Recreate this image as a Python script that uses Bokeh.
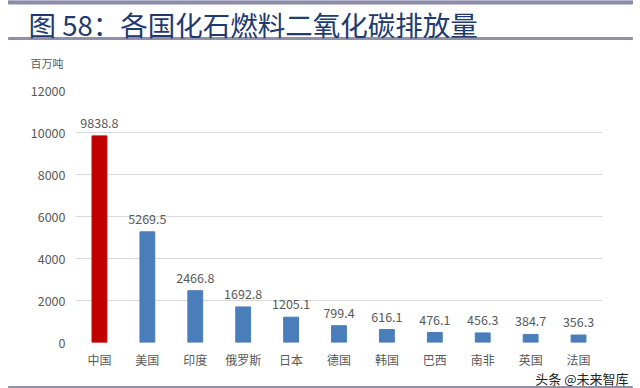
from bokeh.plotting import figure
from bokeh.layouts import column
from bokeh.models import ColumnDataSource, FixedTicker
from bokeh.core.properties import value
from bokeh.embed import file_html
from bokeh.resources import INLINE

countries = ["中国", "美国", "印度", "俄罗斯", "日本", "德国", "韩国", "巴西", "南非", "英国", "法国"]
emissions = [9838.8, 5269.5, 2466.8, 1692.8, 1205.1, 799.4, 616.1, 476.1, 456.3, 384.7, 356.3]
y_ticks = [0, 2000, 4000, 6000, 8000, 10000, 12000]
title_text = "图 58：各国化石燃料二氧化碳排放量"
unit_text = "百万吨"
watermark = "头条 @未来智库"

FONT = "Liberation Sans Narrow, Noto Sans CJK SC"
CJK = "Noto Sans CJK SC"


def blank(h):
    f = figure(width=640, height=h, x_range=(0, 640), y_range=(h, 0),
               output_backend="svg", toolbar_location=None, frame_align=False,
               min_border=0, min_border_left=0, min_border_right=0,
               min_border_top=0, min_border_bottom=0)
    f.axis.visible = False
    f.grid.visible = False
    f.outline_line_color = None
    return f


# ---- header: title, rules, unit ----
hdr = blank(70)
hdr.quad(left=[8], right=[632], top=[0], bottom=[3.5], color="#8C8CAA")
hdr.quad(left=[8], right=[632], top=[37], bottom=[39], color="#9090A8")
hdr.text(x=[28], y=[23], text=[title_text], text_baseline="middle",
         text_font_size="27.5px", text_color="#1F3A6E", text_font=value(CJK))
hdr.text(x=[30], y=[62], text=[unit_text], text_baseline="middle",
         text_font_size="11px", text_color="#595959", text_font=value(CJK))

# ---- chart ----
colors = ["#C00000"] + ["#4A7EBB"] * (len(countries) - 1)
labels = [f"{v:.1f}" for v in emissions]
src = ColumnDataSource(dict(x=countries, y=emissions, c=colors, t=labels))

p = figure(x_range=countries, y_range=(0, 12000), width=640, height=300,
           output_backend="svg", toolbar_location=None, frame_align=False,
           min_border_left=75, min_border_right=38, min_border_top=20, min_border_bottom=27)
p.outline_line_color = None
p.vbar(x="x", top="y", width=0.31, color="c", source=src)
p.text(x="x", y="y", text="t", source=src, text_align="center", text_baseline="bottom",
       y_offset=-8, text_font_size="12.5px", text_color="#595959", text_font=value(FONT))

p.yaxis.ticker = FixedTicker(ticks=y_ticks)
for ax in (p.xaxis[0], p.yaxis[0]):
    ax.axis_line_color = None
    ax.major_tick_line_color = None
    ax.minor_tick_line_color = None
    ax.major_tick_out = 0
    ax.major_tick_in = 0
    ax.minor_tick_out = 0
    ax.major_label_text_color = "#595959"
    ax.major_label_text_font_size = "12.5px"
    ax.major_label_text_font = FONT
p.yaxis.major_label_standoff = 10
p.xaxis.major_label_standoff = 8
p.xaxis.major_label_text_font_size = "12px"
p.xgrid.grid_line_color = None
p.ygrid.grid_line_color = "#D9D9D9"
p.ygrid.grid_line_width = 1

# ---- footer: watermark + rule ----
ftr = blank(18)
ftr.text(x=[628], y=[8], text=[watermark], text_align="right", text_baseline="middle",
         text_font_size="13px", text_color="#222222", text_font=value(CJK))
ftr.quad(left=[8], right=[632], top=[16], bottom=[18], color="#9090A8")

layout = column(hdr, p, ftr, spacing=0)
open("out.html", "w").write(file_html(layout, INLINE))
